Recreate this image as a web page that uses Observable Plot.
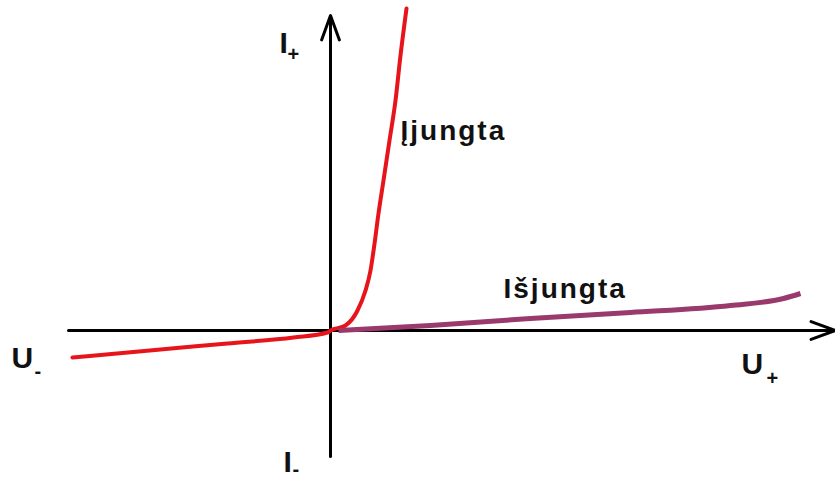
<!DOCTYPE html>
<html>
<head>
<meta charset="utf-8">
<script src="https://cdn.jsdelivr.net/npm/d3@7"></script>
<script src="https://cdn.jsdelivr.net/npm/@observablehq/plot@0.6"></script>
<style>
  html, body { margin: 0; padding: 0; background: #fff; }
  #chart svg { display: block; }
</style>
</head>
<body>
<div id="chart"></div>
<script>
// Current–voltage characteristic of a thyristor-like switch.
// U in arbitrary voltage units, I in arbitrary current units.

// "Įjungta" (on state): reverse leakage branch and forward conduction branch
const onU = [-5.16, -3.4, -2.06, -0.74, -0.06, 0, 0.3, 0.54, 0.7, 0.8, 0.87, 0.96, 1.06, 1.18, 1.3, 1.4, 1.52];
const onI = [-0.54, -0.38, -0.26, -0.14, -0.04, 0, 0.1, 0.4, 0.8, 1.2, 1.66, 2.34, 3.0, 3.8, 4.6, 5.5, 6.44];

// "Išjungta" (off state): forward blocking branch
const offU = [0.16, 2, 4, 6, 8, 9.06, 9.4];
const offI = [0, 0.1, 0.24, 0.36, 0.5, 0.64, 0.74];

// Axis extents
const uAxis = [-5.24, 10.1];
const iAxis = [-2.52, 6.3];

// Axis names (letter + sign subscript) and curve names
const axisLetters = ["I", "U", "U", "I"];
const axisSigns = ["+", "-", "+", "-"];
const axisLetterU = [-1.02, -6.38, 8.22, -0.94];
const axisLetterI = [5.56, -0.74, -0.86, -2.82];
const axisSignU = [-0.86, -5.92, 8.72, -0.76];
const axisSignI = [5.4, -0.94, -1.08, -2.9];

const curveNames = ["Įjungta", "Išjungta"];
const curveNameU = [1.4, 3.46];
const curveNameI = [3.82, 0.66];

const onData = onU.map((u, k) => ({u, i: onI[k]}));
const offData = offU.map((u, k) => ({u, i: offI[k]}));
const axes = [
  {x1: uAxis[0], y1: 0, x2: uAxis[1], y2: 0},
  {x1: 0, y1: iAxis[0], x2: 0, y2: iAxis[1]}
];
const letters = axisLetters.map((t, k) => ({t, u: axisLetterU[k], i: axisLetterI[k]}));
const signs = axisSigns.map((t, k) => ({t, u: axisSignU[k], i: axisSignI[k]}));
const names = curveNames.map((t, k) => ({t, u: curveNameU[k], i: curveNameI[k]}));

const font = "'Liberation Sans', Arial, Helvetica, sans-serif";

const chart = Plot.plot({
  width: 835,
  height: 480,
  margin: 0,
  x: {domain: [-6.6, 10.1], axis: null},
  y: {domain: [-3, 6.6], axis: null},
  style: {background: "#fff", fontFamily: font},
  marks: [
    Plot.arrow(axes, {
      x1: "x1", y1: "y1", x2: "x2", y2: "y2",
      stroke: "#000", strokeWidth: 3, headLength: 13, headAngle: 40
    }),
    Plot.line(onData, {x: "u", y: "i", curve: "monotone-x", stroke: "#e8141c", strokeWidth: 4}),
    Plot.line(offData, {x: "u", y: "i", curve: "monotone-x", stroke: "#9a3a6c", strokeWidth: 5, strokeLinecap: "butt"}),
    Plot.text(letters, {x: "u", y: "i", text: "t", textAnchor: "start", lineAnchor: "bottom",
      fontSize: 30, fontWeight: "bold", fill: "#111"}),
    Plot.text(signs, {x: "u", y: "i", text: "t", textAnchor: "start", lineAnchor: "bottom",
      fontSize: 20, fontWeight: "bold", fill: "#111"}),
    Plot.text(names, {x: "u", y: "i", text: "t", textAnchor: "start", lineAnchor: "bottom",
      fontSize: 28, fontWeight: "bold", fill: "#111"})
  ]
});

// widen the curve names slightly
d3.select(chart).selectAll("text")
  .filter(function () { return this.textContent.length > 2; })
  .style("letter-spacing", "2px");

document.getElementById("chart").appendChild(chart);
</script>
</body>
</html>
